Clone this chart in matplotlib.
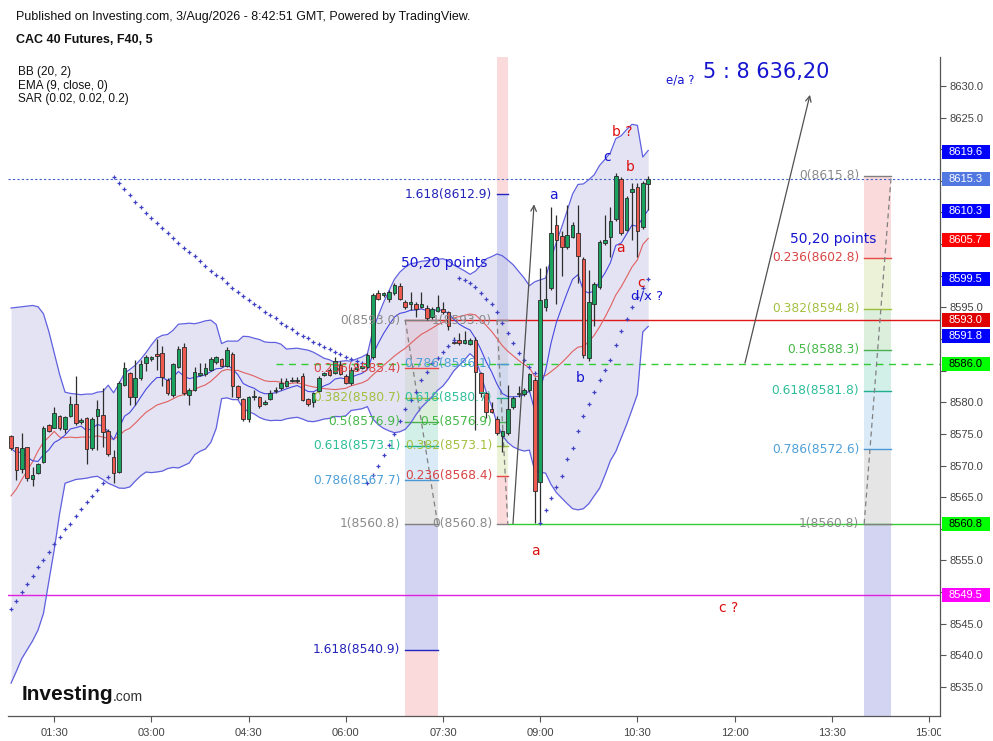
import numpy as np
import pandas as pd
import matplotlib
matplotlib.use("Agg")
import matplotlib.pyplot as plt
from matplotlib.patches import Rectangle
from matplotlib.transforms import blended_transform_factory

# ---------------- data ----------------
bar_start_min = 50          # first bar 00:50
bar_minutes = 5

opens = [8574.6, 8572.9, 8569.4, 8572.9, 8567.8, 8568.8, 8570.6, 8576.4, 8576.0, 8577.8,
         8575.7, 8577.8, 8579.7, 8576.9, 8577.5, 8572.7, 8577.9, 8578.0, 8575.5, 8571.4,
         8569.0, 8582.7, 8584.6, 8580.9, 8583.8, 8586.2, 8586.8, 8587.6, 8587.8, 8583.6,
         8581.2, 8585.6, 8588.7, 8581.2, 8582.0, 8584.3, 8584.4, 8585.1, 8586.3, 8586.8,
         8585.7, 8587.7, 8582.6, 8580.5, 8577.3, 8580.9, 8580.8, 8579.7, 8580.5, 8581.8,
         8582.2, 8582.6, 8583.4, 8583.3, 8584.2, 8580.5, 8580.1, 8581.8, 8584.3, 8585.1,
         8584.6, 8585.9, 8584.2, 8583.0, 8585.2, 8585.4, 8585.6, 8587.1, 8597.2, 8597.0,
         8596.4, 8597.2, 8598.4, 8595.9, 8595.5, 8595.5, 8595.1, 8594.9, 8593.5, 8594.4,
         8594.7, 8594.3, 8589.6, 8589.8, 8589.4, 8589.2, 8589.9, 8584.6, 8581.5, 8579.0,
         8577.3, 8574.7, 8575.1, 8579.2, 8581.3, 8581.3, 8581.9, 8583.5, 8567.4, 8595.1,
         8598.0, 8608.0, 8606.3, 8604.5, 8606.2, 8606.7, 8602.6, 8587.0, 8595.6, 8598.2,
         8605.1, 8606.2, 8608.9, 8615.3, 8607.2, 8613.2, 8614.1, 8607.7, 8614.5]
highs = [8574.8, 8573.0, 8575.1, 8573.0, 8569.8, 8570.4, 8576.3, 8576.6, 8579.3, 8578.0,
         8577.8, 8581.0, 8584.2, 8577.5, 8577.7, 8577.6, 8580.4, 8582.2, 8575.8, 8572.5,
         8583.3, 8586.4, 8584.8, 8586.7, 8586.7, 8587.5, 8587.3, 8590.0, 8588.9, 8583.8,
         8586.2, 8588.9, 8589.4, 8582.2, 8585.6, 8586.2, 8586.2, 8587.2, 8587.3, 8587.0,
         8588.8, 8588.0, 8582.8, 8580.7, 8581.0, 8582.0, 8581.0, 8580.4, 8582.0, 8582.4,
         8583.9, 8583.9, 8584.0, 8584.0, 8584.6, 8580.7, 8581.7, 8584.1, 8584.8, 8585.4,
         8587.1, 8586.6, 8584.4, 8585.6, 8586.2, 8586.0, 8587.8, 8597.2, 8597.7, 8597.5,
         8597.7, 8598.8, 8598.8, 8596.2, 8597.5, 8595.8, 8597.5, 8595.3, 8595.0, 8597.0,
         8595.9, 8594.5, 8590.3, 8590.9, 8591.2, 8590.1, 8590.3, 8584.8, 8581.7, 8580.0,
         8577.8, 8575.6, 8582.7, 8581.0, 8582.5, 8582.3, 8584.7, 8584.0, 8601.2, 8601.5,
         8610.9, 8609.6, 8607.0, 8611.2, 8608.5, 8611.2, 8603.0, 8600.9, 8599.0, 8605.7,
         8609.6, 8610.9, 8616.2, 8615.6, 8612.6, 8614.6, 8614.6, 8615.0, 8615.7]
lows = [8572.4, 8567.7, 8568.8, 8567.5, 8566.7, 8568.6, 8570.4, 8575.3, 8575.9, 8575.6,
        8575.1, 8577.6, 8576.4, 8576.6, 8570.2, 8572.4, 8572.5, 8573.0, 8571.5, 8567.2,
        8568.8, 8582.5, 8579.6, 8579.6, 8583.6, 8584.9, 8586.6, 8585.1, 8582.6, 8581.2,
        8580.9, 8585.4, 8581.2, 8579.6, 8581.8, 8584.1, 8584.2, 8585.0, 8586.0, 8585.5,
        8585.5, 8580.9, 8580.5, 8577.0, 8576.9, 8580.4, 8579.1, 8579.5, 8580.3, 8581.5,
        8582.0, 8582.4, 8583.2, 8583.1, 8580.2, 8579.4, 8579.3, 8581.6, 8584.1, 8584.1,
        8584.4, 8584.3, 8582.9, 8582.8, 8585.0, 8585.2, 8585.4, 8586.9, 8596.1, 8596.7,
        8595.9, 8596.9, 8596.1, 8594.8, 8594.6, 8593.5, 8594.9, 8593.0, 8593.2, 8594.2,
        8594.0, 8591.5, 8589.2, 8589.0, 8589.2, 8589.0, 8575.6, 8580.9, 8577.5, 8578.3,
        8574.8, 8572.2, 8574.8, 8579.0, 8580.8, 8581.0, 8581.6, 8560.9, 8560.9, 8594.5,
        8597.7, 8595.6, 8599.9, 8604.2, 8605.9, 8598.8, 8587.0, 8586.5, 8592.0, 8597.9,
        8604.8, 8603.0, 8608.6, 8606.4, 8607.0, 8605.7, 8603.0, 8607.4, 8610.4]
closes = [8572.7, 8569.3, 8572.7, 8568.0, 8568.5, 8570.2, 8576.0, 8575.5, 8578.3, 8576.0,
          8577.6, 8579.7, 8576.8, 8577.2, 8572.6, 8577.3, 8579.0, 8575.3, 8571.8, 8568.9,
          8583.1, 8585.4, 8580.8, 8583.9, 8586.0, 8587.1, 8587.1, 8587.3, 8584.0, 8581.5,
          8586.0, 8588.5, 8581.4, 8582.0, 8584.8, 8584.7, 8585.4, 8586.8, 8587.1, 8585.7,
          8588.2, 8582.6, 8580.8, 8577.3, 8580.8, 8581.0, 8579.4, 8580.1, 8581.5, 8582.0,
          8583.0, 8583.4, 8583.6, 8583.6, 8580.4, 8579.7, 8581.5, 8583.9, 8584.6, 8584.3,
          8586.6, 8584.5, 8583.1, 8585.1, 8585.6, 8585.7, 8587.5, 8597.0, 8596.4, 8597.2,
          8597.5, 8598.5, 8596.4, 8595.0, 8595.8, 8594.7, 8595.5, 8593.3, 8594.7, 8595.0,
          8594.2, 8592.1, 8589.4, 8589.3, 8589.8, 8589.8, 8584.8, 8581.4, 8578.5, 8578.5,
          8575.1, 8575.4, 8579.0, 8580.6, 8581.4, 8582.0, 8584.4, 8566.0, 8596.2, 8596.4,
          8606.7, 8605.7, 8604.6, 8606.5, 8608.0, 8603.1, 8587.5, 8595.9, 8598.7, 8605.4,
          8605.6, 8608.6, 8615.7, 8606.7, 8612.3, 8613.7, 8607.0, 8614.6, 8615.3]

sar_values = [8547.3, 8548.6, 8550.0, 8551.2, 8552.6, 8553.9, 8555.1, 8556.4, 8557.6, 8558.7,
              8559.9, 8560.8, 8562.0, 8563.1, 8564.2, 8565.2, 8566.2, 8567.2, 8568.2,
              8615.6, 8614.6, 8613.7, 8612.7, 8611.7, 8610.8, 8609.9, 8609.2, 8608.3, 8607.6,
              8606.7, 8606.0, 8605.2, 8604.4, 8603.7, 8603.1, 8602.3,
              8601.5, 8600.7, 8600.1, 8599.6, 8598.8, 8598.1, 8597.5, 8596.8, 8596.2, 8595.5,
              8595.0, 8594.3, 8593.8, 8593.3, 8592.6, 8592.1, 8591.6, 8591.0, 8590.5, 8590.1,
              8589.6, 8589.2, 8588.8, 8588.4, 8588.0, 8587.6, 8587.2, 8586.8, 8586.5, 8586.2,
              8567.3, 8568.5, 8569.9, 8571.7, 8573.3, 8575.0, 8577.0, 8578.9, 8580.4, 8581.7,
              8583.5, 8584.8, 8586.2, 8587.0, 8588.0, 8588.9, 8589.8,
              8599.6, 8599.3, 8598.8, 8598.2, 8597.2, 8596.4, 8595.5, 8594.2, 8592.5, 8590.9,
              8589.3, 8587.8, 8586.7, 8585.5, 8584.6,
              8560.9, 8563.0, 8564.8, 8566.6, 8568.3, 8571.0, 8572.7, 8575.5, 8577.8, 8579.8,
              8581.6, 8583.5, 8585.1, 8586.7, 8589.1, 8591.2, 8593.1, 8595.0, 8596.6, 8598.1,
              8599.5]

# Bollinger values of the first 19 bars (their 20-bar window starts before the chart)
bb_upper_early = [8594.9, 8595.0, 8595.1, 8595.2, 8595.3, 8595.1, 8594.0, 8591.2, 8587.8, 8584.4,
                  8581.6, 8581.4, 8581.3, 8581.2, 8581.3, 8581.3, 8581.6, 8581.7, 8582.7]
bb_lower_early = [8535.6, 8537.5, 8539.5, 8540.9, 8542.3, 8544.0, 8546.6, 8551.7, 8556.7, 8562.4,
                  8567.2, 8567.5, 8567.8, 8567.9, 8568.0, 8568.2, 8568.3, 8567.8, 8567.2]
bb_basis_early = [8565.2, 8566.3, 8567.8, 8569.2, 8570.6, 8572.3, 8573.7, 8574.5, 8575.4, 8574.5,
                  8574.4, 8574.5, 8574.4, 8574.5, 8574.5, 8574.5, 8574.7, 8574.5, 8574.3]

# horizontal lines
line_red = 8593.0
line_green_dashed = 8586.0
line_green = 8560.8
line_magenta = 8549.5

# fib retracements: (price at level 0, price at level 1)
fib1_prices = (8593.0, 8560.8)
fib2_prices = (8560.8, 8593.0)
fib3_prices = (8615.8, 8560.8)
fib_ratios = [0, 0.236, 0.382, 0.5, 0.618, 0.786, 1, 1.618, 2.618]

# right axis price labels
axis_label_values = [8619.6, 8615.3, 8610.3, 8605.7, 8599.5, 8593.0, 8591.8, 8586.0, 8560.8, 8549.5]
axis_label_colors = ['#0000FF', '#5078E0', '#0000FF', '#FF0000', '#0000FF', '#E00000',
                     '#0000FF', '#00FF00', '#00FF00', '#FF00FF']
axis_label_textcolors = ['white', 'white', 'white', 'white', 'white', 'white',
                         'white', 'black', 'black', 'white']

time_ticks = [90, 180, 270, 360, 450, 540, 630, 720, 810, 900]
time_labels = ['01:30', '03:00', '04:30', '06:00', '07:30', '09:00', '10:30', '12:00', '13:30', '15:00']
price_ticks = list(range(8535, 8631, 5))

# ---------------- indicators ----------------
n = len(closes)
t = bar_start_min + bar_minutes * np.arange(n)
o = np.array(opens); h = np.array(highs); l = np.array(lows); c = np.array(closes)
cs = pd.Series(closes)
basis = cs.rolling(20).mean().to_numpy()
sd = cs.rolling(20).std(ddof=0).to_numpy()
upper = basis + 2 * sd
lower = basis - 2 * sd
ne = len(bb_upper_early)
upper[:ne] = bb_upper_early
lower[:ne] = bb_lower_early
basis[:ne] = bb_basis_early
ema = cs.ewm(span=9, adjust=False).mean().to_numpy()

# ---------------- figure ----------------
W, H = 993, 741
fig = plt.figure(figsize=(W / 100, H / 100), dpi=100)
fig.patch.set_facecolor('white')
ax = fig.add_axes([8 / W, 1 - 716 / H, (940 - 8) / W, (716 - 57) / H])
ax.set_xlim(47.2, 910.2)
ax.set_ylim(8530.41, 8634.58)
px_per_pt = (716 - 57) / (8634.58 - 8530.41)

for s in ['top', 'left']:
    ax.spines[s].set_visible(False)
for s in ['right', 'bottom']:
    ax.spines[s].set_color('#555555')
    ax.spines[s].set_linewidth(0.9)
ax.yaxis.tick_right()
ax.set_yticks(price_ticks)
# tick labels hidden where a coloured price label sits on top of them
ytl = []
for v in price_ticks:
    covered = any(abs(v - a) < 1.9 for a in axis_label_values)
    ytl.append('' if covered else f"{v:.1f}")
ax.set_yticklabels(ytl)
ax.set_xticks(time_ticks)
ax.set_xticklabels(time_labels)
ax.tick_params(axis='y', labelsize=8, colors='#555555', length=4, pad=3)
ax.tick_params(axis='x', labelsize=8, colors='#555555', length=4, pad=5)
for lab in ax.get_xticklabels() + ax.get_yticklabels():
    lab.set_family('Liberation Sans')
    lab.set_color('#444444')

# fib colours
fib_colors = ['#808080', '#E84848', '#9DBF3A', '#4CB050', '#20B090', '#4A98D8', '#808080', '#2525C0', '#E84848']
fib_text_colors = ['#8A8A8A', '#D84545', '#A3C040', '#45B848', '#2EBF98', '#4FA0D8', '#8A8A8A', '#2323B8', '#D84545']


def draw_fib(p0, p1, tl, tr, nlabels, trend_from_top=True):
    levels = [p0 + r * (p1 - p0) for r in fib_ratios]
    for k in range(len(levels) - 1):
        lo_, hi_ = sorted([levels[k], levels[k + 1]])
        ax.fill_between([tl, tr], lo_, hi_, color=fib_colors[k + 1], alpha=0.2, lw=0, zorder=0.6)
    for k in range(nlabels):
        ax.plot([tl, tr], [levels[k], levels[k]], color=fib_colors[k], lw=1.0, zorder=2.2)
        ax.text(tl - 4.5, levels[k], f"{fib_ratios[k]:g}({levels[k]:.1f})", ha='right', va='center',
                fontsize=8.8, color=fib_text_colors[k], zorder=7)
    if trend_from_top:
        ax.plot([tl, tr], [max(p0, p1), min(p0, p1)], color='#808080', lw=0.9, ls=(0, (4, 3)), zorder=2.3)
    else:
        ax.plot([tl, tr], [min(p0, p1), max(p0, p1)], color='#808080', lw=0.9, ls=(0, (4, 3)), zorder=2.3)


draw_fib(*fib1_prices, 415, 445, 8, True)
draw_fib(*fib2_prices, 500, 510, 8, True)
draw_fib(*fib3_prices, 840, 865, 7, False)

# Bollinger band fill and lines
ax.fill_between(t, lower, upper, color='#C9C9E8', alpha=0.5, lw=0, zorder=1)
ax.plot(t, upper, color='#6060E0', lw=0.9, zorder=3)
ax.plot(t, lower, color='#6060E0', lw=0.9, zorder=3)
ax.plot(t, basis, color='#E06060', lw=0.8, zorder=3)
ax.plot(t, ema, color='#4848E0', lw=0.8, zorder=3)

# horizontal lines
xl = ax.get_xlim()
ax.plot(xl, [c[-1], c[-1]], color='#4060C8', lw=0.8, ls=(0, (2, 2)), zorder=2)
ax.plot([415, xl[1]], [line_red, line_red], color='#E01818', lw=1.0, zorder=2)
ax.plot([295, xl[1]], [line_green_dashed, line_green_dashed], color='#33CC33', lw=1.0, ls=(0, (5, 4)), zorder=2)
ax.plot([510, xl[1]], [line_green, line_green], color='#33CC33', lw=1.0, zorder=2)
ax.plot(xl, [line_magenta, line_magenta], color='#E020E0', lw=1.0, zorder=2)

# candles
up = c >= o
ax.vlines(t, l, h, color='#2E2E2E', lw=0.9, zorder=4)
body_lo = np.minimum(o, c)
body_h = np.maximum(np.abs(c - o), 0.15)
ax.bar(t, body_h, bottom=body_lo, width=3.4, color=np.where(up, '#1AA35F', '#EE5A4F'),
       edgecolor='#2A2A2A', linewidth=0.6, zorder=5)

# SAR
ax.plot(t, sar_values, ls='none', marker='+', ms=3.4, mew=0.9, color='#4141C4', zorder=6)

# arrows
ax.annotate('', xy=(534.3, 8611.3), xytext=(514.8, 8560.8),
            arrowprops=dict(arrowstyle='->', color='#505050', lw=0.9, shrinkA=0, shrinkB=0), zorder=6)
ax.annotate('', xy=(789.8, 8628.6), xytext=(729.6, 8586.2),
            arrowprops=dict(arrowstyle='->', color='#505050', lw=0.9, shrinkA=0, shrinkB=0), zorder=6)

# text annotations
blue = '#1515D0'
red = '#DD1010'
ax.text(450.9, 8602.0, '50,20 points', color=blue, fontsize=10, ha='center', va='center', zorder=7)
ax.text(811.0, 8605.8, '50,20 points', color=blue, fontsize=10, ha='center', va='center', zorder=7)
ax.text(669.4, 8630.9, 'e/a ?', color=blue, fontsize=8.5, ha='center', va='center', zorder=7)
ax.text(690.5, 8632.2, '5 : 8 636,20', color=blue, fontsize=15, ha='left', va='center', zorder=7)
ax.text(551.9, 8612.8, 'a', color=blue, fontsize=10, ha='center', va='center', zorder=7)
ax.text(601.9, 8618.8, 'c', color=blue, fontsize=10, ha='center', va='center', zorder=7)
ax.text(615.7, 8622.7, 'b ?', color=red, fontsize=10, ha='center', va='center', zorder=7)
ax.text(623.1, 8617.2, 'b', color=red, fontsize=10, ha='center', va='center', zorder=7)
ax.text(613.9, 8604.4, 'a', color=red, fontsize=10, ha='center', va='center', zorder=7)
ax.text(633.3, 8598.9, 'c', color=red, fontsize=10, ha='center', va='center', zorder=7)
ax.text(638.5, 8596.8, 'd/x ?', color=blue, fontsize=9.5, ha='center', va='center', zorder=7)
ax.text(576.9, 8583.8, 'b', color=blue, fontsize=10, ha='center', va='center', zorder=7)
ax.text(535.2, 8556.5, 'a', color=red, fontsize=10, ha='center', va='center', zorder=7)
ax.text(714.8, 8547.5, 'c ?', color=red, fontsize=10, ha='center', va='center', zorder=7)

# right-axis coloured price labels (pushed apart when they would collide, like TradingView)
trans = blended_transform_factory(ax.transAxes, ax.transData)
box_w = 48 / 932
box_h = 14 / px_per_pt
min_gap = 16 / px_per_pt
order = np.argsort(axis_label_values)[::-1]
placed = {}
prev = None
for k in order:
    v = axis_label_values[k]
    pos = v if prev is None else min(v, prev - min_gap)
    placed[k] = pos
    prev = pos
for k, (v, fc, tc) in enumerate(zip(axis_label_values, axis_label_colors, axis_label_textcolors)):
    pos = placed[k]
    ax.add_patch(Rectangle((1.002, pos - box_h / 2), box_w, box_h, transform=trans, facecolor=fc,
                           edgecolor='none', clip_on=False, zorder=8))
    ax.text(1.002 + box_w / 2, pos, f"{v:.1f}", transform=trans, ha='center', va='center',
            fontsize=8, color=tc, family='Liberation Sans', clip_on=False, zorder=9)

# cover the clipped part of the last time label
fig.add_artist(Rectangle((941 / W, 0), 52 / W, 24 / H, transform=fig.transFigure,
                         facecolor='white', edgecolor='none', zorder=10))

# header texts
fig.text(16 / W, 1 - 17 / H, 'Published on Investing.com, 3/Aug/2026 - 8:42:51 GMT, Powered by TradingView.',
         fontsize=9, family='Liberation Sans', color='#111111', va='center', ha='left')
fig.text(16 / W, 1 - 40 / H, 'CAC 40 Futures, F40, 5', fontsize=9, family='Liberation Sans',
         weight='bold', color='#111111', va='center', ha='left')
for k, s in enumerate(['BB (20, 2)', 'EMA (9, close, 0)', 'SAR (0.02, 0.02, 0.2)']):
    fig.text(18 / W, 1 - (72 + 13.5 * k) / H, s, fontsize=8.5, family='Liberation Sans',
             color='#111111', va='center', ha='left')

# Investing.com logo
fig.text(22 / W, 1 - 694 / H, 'Investing', fontsize=15, family='Liberation Sans', weight='bold',
         color='#111111', va='center', ha='left')
fig.text(113 / W, 1 - 697 / H, '.com', fontsize=10, family='Liberation Sans',
         color='#333333', va='center', ha='left')

fig.savefig('out.png', dpi=100, facecolor='white')
